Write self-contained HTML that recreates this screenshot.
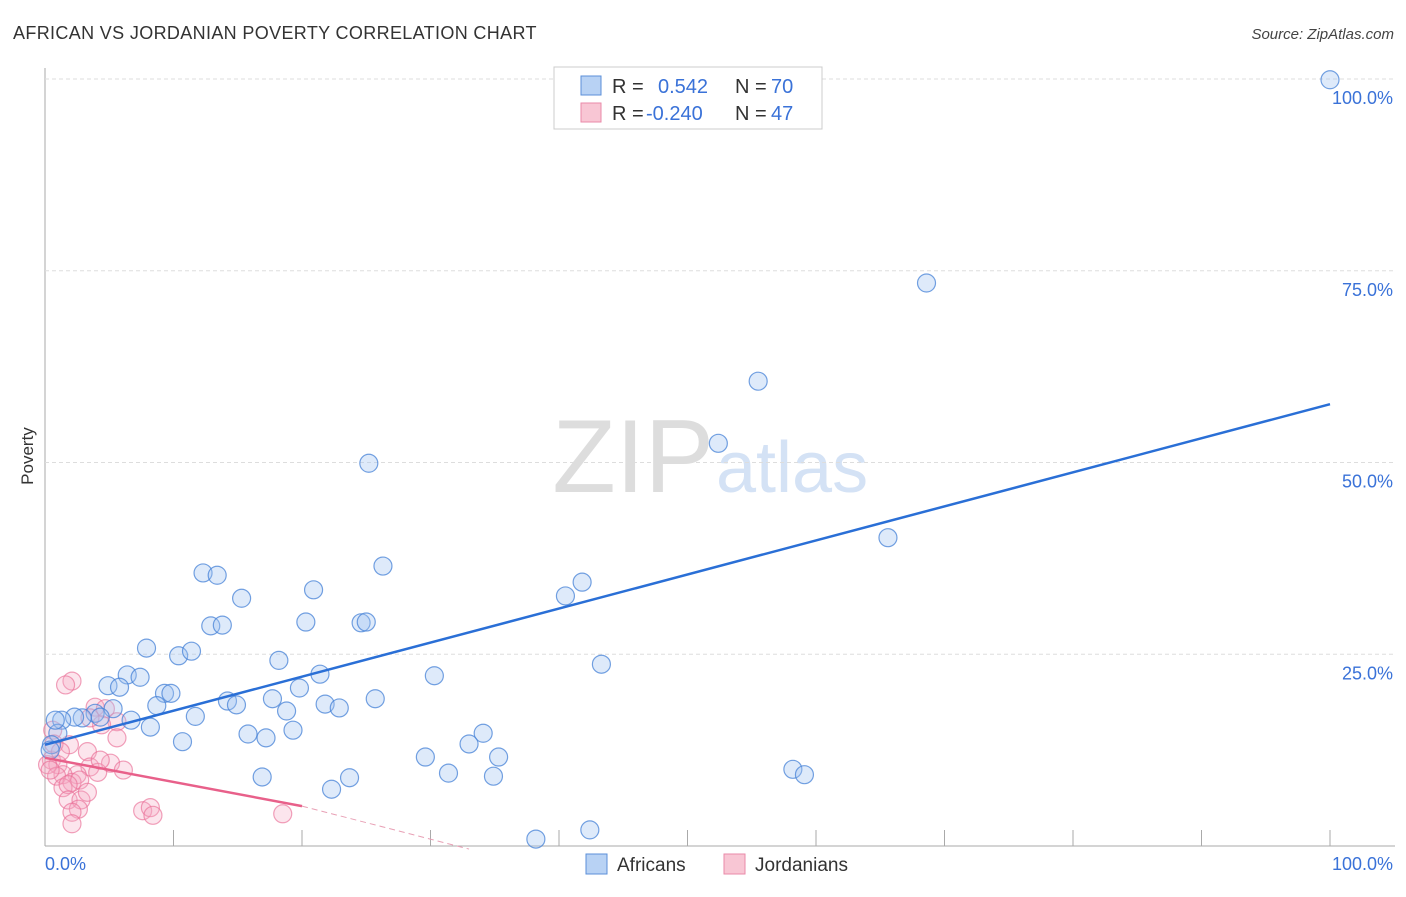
<!DOCTYPE html>
<html><head><meta charset="utf-8"><style>
body{margin:0;background:#fff;font-family:"Liberation Sans",sans-serif}
svg text{font-family:"Liberation Sans",sans-serif}
</style></head><body>
<svg width="1406" height="892">
<text x="13" y="39" font-size="18" letter-spacing="0.35" fill="#333">AFRICAN VS JORDANIAN POVERTY CORRELATION CHART</text>
<text x="1394" y="39" font-size="15" fill="#444" font-style="italic" text-anchor="end">Source: ZipAtlas.com</text>
<text x="33" y="456" font-size="17" fill="#333" transform="rotate(-90 33 456)" text-anchor="middle">Poverty</text>
<text x="714" y="492" font-size="104" fill="#ddd" font-family="Liberation Serif" text-anchor="end">ZIP</text>
<text x="716" y="492" font-size="72" fill="#d4e2f5">atlas</text>
<g id="grid"></g><g id="pts"></g><g id="lines"></g>
<g>
<rect x="554" y="67" width="268" height="62" fill="#fff" stroke="#ccc"/>
<rect x="581" y="76" width="20" height="19" fill="#b8d2f4" stroke="#5b8fd8"/>
<rect x="581" y="103" width="20" height="19" fill="#f8c6d4" stroke="#ea8aa8"/>
<text x="612" y="93" font-size="20" fill="#333">R =</text><text x="658" y="93" font-size="20" fill="#3a72d8">0.542</text>
<text x="735" y="93" font-size="20" fill="#333">N =</text><text x="771" y="93" font-size="20" fill="#3a72d8">70</text>
<text x="612" y="120" font-size="20" fill="#333">R =</text><text x="646" y="120" font-size="20" fill="#3a72d8">-0.240</text>
<text x="735" y="120" font-size="20" fill="#333">N =</text><text x="771" y="120" font-size="20" fill="#3a72d8">47</text>
</g>
<g>
<rect x="586" y="854" width="21" height="20" fill="#b8d2f4" stroke="#5b8fd8"/>
<text x="617" y="871" font-size="19" fill="#333">Africans</text>
<rect x="724" y="854" width="21" height="20" fill="#f8c6d4" stroke="#ea8aa8"/>
<text x="755" y="871" font-size="19" fill="#333">Jordanians</text>
</g>
</svg>
<script>
const yTicks=[25,50,75,100];
const yTickLabels=["25.0%","50.0%","75.0%","100.0%"];
const africansX=[100,68.6,55.5,52.4,25.2,65.6,26.3,41.8,40.5,12.3,13.4,15.3,20.9,12.9,13.8,20.3,24.6,25.0,7.9,10.4,11.4,43.3,18.2,6.4,7.4,21.4,30.3,4.9,5.8,9.3,9.8,19.8,14.2,14.9,17.7,8.7,25.7,21.8,22.9,18.8,5.3,11.7,3.9,4.3,2.9,2.3,1.3,6.7,8.2,15.8,17.2,19.3,34.1,33.0,10.7,1.0,0.5,35.3,29.6,31.4,34.9,16.9,23.7,58.2,59.1,22.3,38.2,42.4,0.8,0.4];
const africansY=[99.9,73.4,60.6,52.5,49.9,40.2,36.5,34.4,32.6,35.6,35.3,32.3,33.4,28.7,28.8,29.2,29.1,29.2,25.8,24.8,25.4,23.7,24.2,22.3,22.0,22.4,22.2,20.9,20.7,19.9,19.9,20.6,18.9,18.4,19.2,18.3,19.2,18.5,18.0,17.6,17.9,16.9,17.3,16.8,16.7,16.8,16.4,16.4,15.5,14.6,14.1,15.1,14.7,13.3,13.6,14.7,13.2,11.6,11.6,9.5,9.1,9.0,8.9,10.0,9.3,7.4,0.9,2.1,16.4,12.5];
const jordX=[2.1,1.6,3.9,4.7,5.6,4.4,3.5,5.6,1.9,3.3,0.6,0.5,1.0,0.2,5.1,6.1,3.5,4.1,2.5,1.4,0.9,2.1,2.7,1.4,1.8,1.8,2.8,2.6,2.1,2.1,7.6,8.2,8.4,18.5,0.7,1.2,0.4,3.3,4.3];
const jordY=[21.5,21.0,18.1,17.9,16.2,15.8,16.7,14.1,13.2,12.3,15.1,11.2,10.6,10.6,10.8,9.9,10.3,9.6,9.3,9.3,9.1,8.3,8.6,7.6,8.0,6.0,6.0,4.8,4.4,2.9,4.6,5.0,4.0,4.2,13.3,12.3,9.9,7.0,11.2];
const africanTrend=[13.2,57.6];
const jordTrend=[11.5,5.2,20,-0.4,33];
const X=v=>45+v*12.85, Y=v=>846-v*7.67;
const NS="http://www.w3.org/2000/svg";
function mk(t,a,p){const e=document.createElementNS(NS,t);for(const k in a)e.setAttribute(k,a[k]);p.appendChild(e);return e;}
const grid=document.getElementById('grid');
mk('line',{x1:45,y1:68,x2:45,y2:846,stroke:'#aaa'},grid);
mk('line',{x1:45,y1:846,x2:1395,y2:846,stroke:'#aaa'},grid);
yTicks.forEach((t,i)=>{
 const l=mk('line',{x1:45,y1:Y(t),x2:1395,y2:Y(t),stroke:'#ddd','stroke-dasharray':'4,3'},grid);
 
 
 const tx=mk('text',{x:1393,y:Y(t)+25,'font-size':18,fill:'#3a72d8','text-anchor':'end'},grid);
 tx.textContent=yTickLabels[i];
 
 
});
for(let i=1;i<=10;i++){const l=mk('line',{x1:X(i*10),y1:830,x2:X(i*10),y2:846,stroke:'#aaa'},grid);
 
 }
const x0=mk('text',{x:45,y:870,'font-size':18,fill:'#3a72d8'},grid);x0.textContent='0.0%';


const x1=mk('text',{x:1393,y:870,'font-size':18,fill:'#3a72d8','text-anchor':'end'},grid);x1.textContent='100.0%';


const pts=document.getElementById('pts');
jordX.forEach((v,i)=>{const c=mk('circle',{cx:X(v),cy:Y(jordY[i]),r:9,fill:'rgba(245,170,195,0.3)',stroke:'rgba(234,110,150,0.65)','stroke-width':1.2},pts);
 
 });
africansX.forEach((v,i)=>{const c=mk('circle',{cx:X(v),cy:Y(africansY[i]),r:9,fill:'rgba(160,195,240,0.35)',stroke:'rgba(70,130,215,0.75)','stroke-width':1.2},pts);
 
 });
const lines=document.getElementById('lines');
const bl=mk('line',{x1:X(0),y1:Y(africanTrend[0]),x2:X(100),y2:Y(africanTrend[1]),stroke:'#2a6fd6','stroke-width':2.5},lines);


const pl=mk('line',{x1:X(0),y1:Y(jordTrend[0]),x2:X(jordTrend[2]),y2:Y(jordTrend[1]),stroke:'#e8608a','stroke-width':2.5},lines);


const pd=mk('line',{x1:X(jordTrend[2]),y1:Y(jordTrend[1]),x2:X(jordTrend[4]),y2:Y(jordTrend[3]),stroke:'#e8a0b5','stroke-width':1,'stroke-dasharray':'6,4'},lines);


</script>
</body></html>
